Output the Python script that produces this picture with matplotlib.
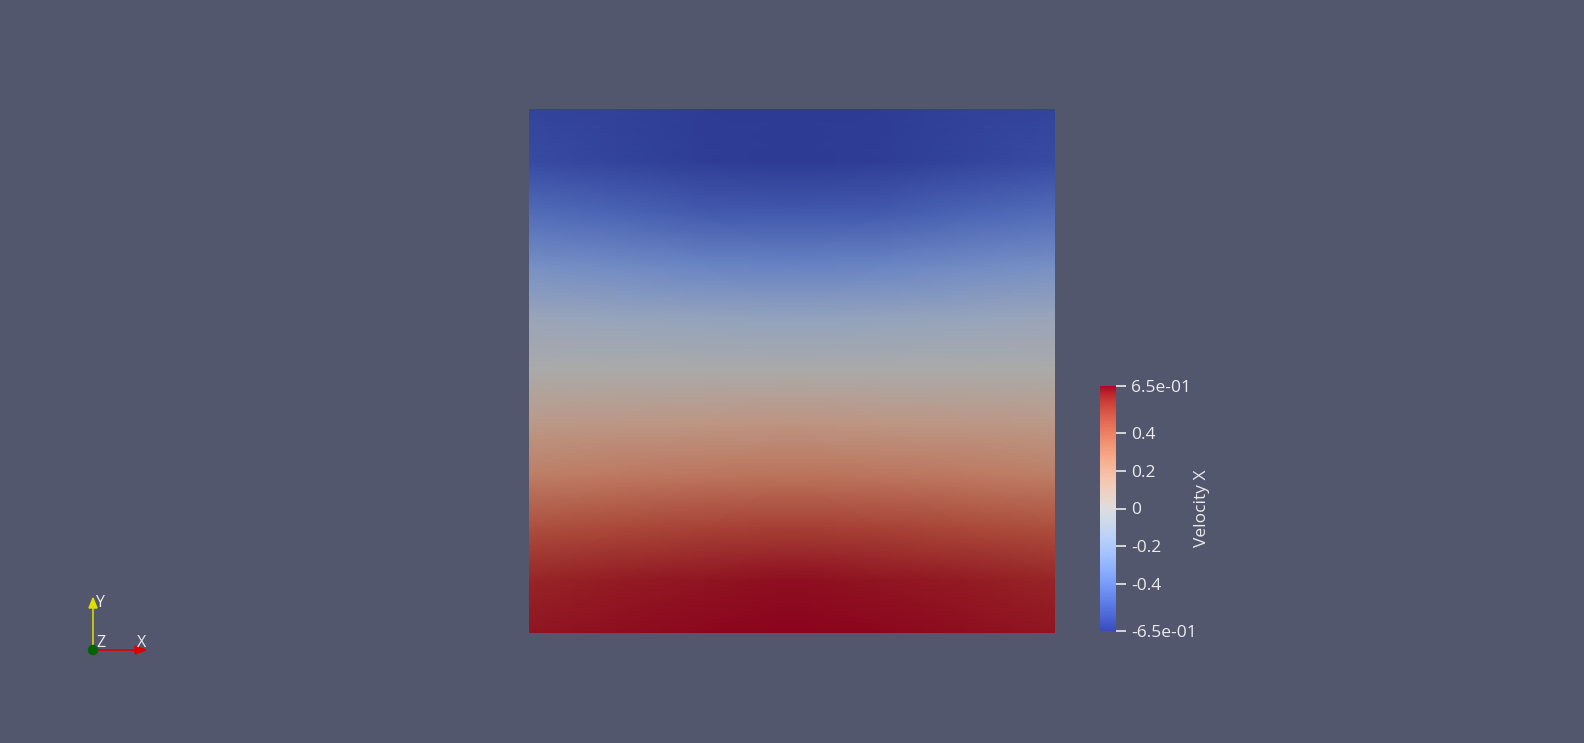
import numpy as np
import matplotlib
matplotlib.use("Agg")
import matplotlib.pyplot as plt
from matplotlib.colors import ListedColormap, Normalize
from matplotlib.patches import Circle, Polygon

# ---- data ----
x_coords = [0.0, 1/6, 2/6, 3/6, 4/6, 5/6, 1.0]
# rows from top (y=1) to bottom (y=0)
y_coords = [1.0, 0.9, 0.8, 0.7, 0.6, 0.5, 0.4, 0.3, 0.2, 0.1, 0.0]
velocity_x = [
    [-0.61, -0.62, -0.64, -0.65, -0.64, -0.62, -0.61],
    [-0.585, -0.61, -0.637, -0.65, -0.637, -0.61, -0.585],
    [-0.45, -0.48, -0.52, -0.53, -0.52, -0.48, -0.45],
    [-0.27, -0.30, -0.34, -0.35, -0.34, -0.30, -0.27],
    [-0.10, -0.12, -0.13, -0.14, -0.13, -0.12, -0.10],
    [0.0, 0.0, 0.0, 0.0, 0.0, 0.0, 0.0],
    [0.15, 0.16, 0.17, 0.18, 0.17, 0.16, 0.15],
    [0.29, 0.31, 0.33, 0.34, 0.33, 0.31, 0.29],
    [0.47, 0.49, 0.51, 0.52, 0.51, 0.49, 0.47],
    [0.59, 0.61, 0.62, 0.63, 0.62, 0.61, 0.59],
    [0.62, 0.63, 0.64, 0.65, 0.64, 0.63, 0.62],
]
vmin, vmax = -0.65, 0.65
cbar_ticks = [-0.65, -0.4, -0.2, 0.0, 0.2, 0.4, 0.65]
cbar_labels = ["-6.5e-01", "-0.4", "-0.2", "0", "0.2", "0.4", "6.5e-01"]
cbar_title = "Velocity X"

# ---- style ----
BG = "#52576e"
TXT = "#ebebeb"
plt.rcParams["font.family"] = ["Open Sans", "DejaVu Sans"]

base = plt.get_cmap("coolwarm")(np.linspace(0, 1, 256))
lit = base.copy()
lit[:, :3] *= 0.77
lit_cmap = ListedColormap(lit)
norm = Normalize(vmin, vmax)

W, H = 1584, 743
fig = plt.figure(figsize=(W / 100, H / 100), dpi=100, facecolor=BG)

# field
ax = fig.add_axes([529 / W, (H - 633) / H, 526 / W, 524 / H])
X, Y = np.meshgrid(x_coords, y_coords)
ax.pcolormesh(X, Y, np.array(velocity_x), cmap=lit_cmap, norm=norm,
              shading="gouraud")
ax.set_xlim(0, 1)
ax.set_ylim(0, 1)
ax.axis("off")

# colorbar
cax = fig.add_axes([1100 / W, (H - 631) / H, 16 / W, 245 / H])
grad = np.linspace(vmin, vmax, 256).reshape(-1, 1)
cax.imshow(grad, cmap=ListedColormap(base), norm=norm, aspect="auto",
           origin="lower", extent=[0, 1, vmin, vmax])
cax.set_xlim(0, 1)
cax.set_ylim(vmin, vmax)
for s in cax.spines.values():
    s.set_visible(False)
cax.set_xticks([])
cax.yaxis.tick_right()
cax.set_yticks(cbar_ticks)
cax.set_yticklabels(cbar_labels)
cax.tick_params(axis="y", colors=TXT, length=7, width=1.2, pad=4,
                labelsize=12.5, direction="out")
for lab in cax.get_yticklabels():
    lab.set_color(TXT)
fig.text(1202 / W, 1 - 508 / H, cbar_title, rotation=90, color=TXT,
         fontsize=12.5, ha="center", va="center")

# orientation triad
tax = fig.add_axes([0, 0, 1, 1], facecolor="none")
tax.set_xlim(0, W)
tax.set_ylim(H, 0)
tax.axis("off")
ox, oy = 93, 650
tax.plot([ox, ox], [oy, 607], color="#d8d800", lw=1.2)
tax.add_patch(Polygon([[ox - 4, 608], [ox + 4, 608], [ox, 598]],
                      closed=True, color="#e0e000"))
tax.plot([ox, 135], [oy, oy], color="#e00000", lw=1.2)
tax.add_patch(Polygon([[135, oy - 4], [135, oy + 4], [146, oy]],
                      closed=True, color="#e00000"))
tax.add_patch(Circle((ox, oy), 4.5, color="#006400", zorder=5))
tax.text(95, 603, "Y", color=TXT, fontsize=11.5, va="center", ha="left")
tax.text(137, 643, "X", color=TXT, fontsize=11.5, va="center", ha="left")
tax.text(96, 643, "Z", color=TXT, fontsize=11.5, va="center", ha="left")

fig.savefig("out.png", dpi=100, facecolor=BG)
